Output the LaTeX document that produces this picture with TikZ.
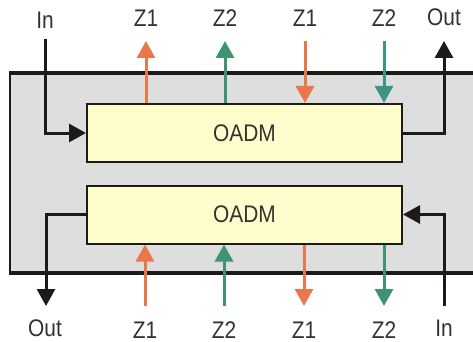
\documentclass[tikz,border=0pt]{standalone}
\usepackage{fontspec}
\setmainfont[FakeStretch=0.87]{Liberation Sans}
\usepackage{tikz}
\usetikzlibrary{arrows.meta}
\definecolor{zorange}{HTML}{E8784A}
\definecolor{zgreen}{HTML}{3F9470}
\definecolor{zteal}{HTML}{3B9488}
\definecolor{shelf}{HTML}{DEDEDE}
\definecolor{oadmfill}{HTML}{FFFDCC}
\definecolor{ink}{HTML}{1E1A18}

\begin{document}
\begin{tikzpicture}[x=1pt, y=-1pt,
    lbl/.style={font=\fontsize{24}{28}\selectfont, text=ink!90, inner sep=0pt},
    oadm/.style={draw=ink, line width=2pt, fill=oadmfill, minimum width=315pt, minimum height=58pt, font=\fontsize{24}{28}\selectfont, text=ink!90},
    sig/.style={line width=3pt, draw=ink, -{Triangle[width=18pt,length=17pt]}},
    zone/.style={line width=3pt, -{Triangle[width=18pt,length=17pt]}}]
      \useasboundingbox (0,0) rectangle (473,342);
      \fill[shelf] (10,73) rectangle (473,273);
      \draw[ink, line width=1.5pt] (10,73) -- (10,273);
      \draw[ink, line width=3.5pt] (9.25,73) -- (473,73);
      \draw[ink, line width=3.5pt] (9.25,273) -- (473,273);
      \node[oadm] (top) at (244.5,133) {OADM};
      \node[oadm] (bot) at (244.5,214.5) {OADM};
      % labels
      \node[lbl] (inA)  at (45,20.5) {In};
      \node[lbl] (z1A)  at (146,18)  {Z1};
      \node[lbl] (z2A)  at (225,18)  {Z2};
      \node[lbl] (z1B)  at (305,18)  {Z1};
      \node[lbl] (z2B)  at (384,18)  {Z2};
      \node[lbl] (outA) at (444,17)  {Out};
      \node[lbl] (outB) at (45,328)  {Out};
      \node[lbl] (z1C)  at (145,330) {Z1};
      \node[lbl] (z2C)  at (224,330) {Z2};
      \node[lbl] (z1D)  at (304,330) {Z1};
      \node[lbl] (z2D)  at (384,330) {Z2};
      \node[lbl] (inB)  at (444,328) {In};
      % line ends
      \coordinate (inAend)  at (45,39);
      \coordinate (outAend) at (444,41);
      \coordinate (outBend) at (46,306);
      \coordinate (inBend)  at (444,306);
      \coordinate (z1Aend) at (146,41);
      \coordinate (z2Aend) at (225,41);
      \coordinate (z1Bend) at (305,41);
      \coordinate (z2Bend) at (384,41);
      \coordinate (z1Cend) at (145,306);
      \coordinate (z2Cend) at (224,306);
      \coordinate (z1Dend) at (304,306);
      \coordinate (z2Dend) at (384,306);
      % top OADM
      \draw[sig] (inAend) |- (top.west);
      \draw[sig] (top.east) -| (outAend);
      \draw[zone, zorange] (top.north -| z1Aend) -- (z1Aend);
      \draw[zone, zgreen]  (top.north -| z2Aend) -- (z2Aend);
      \draw[zone, zorange] (z1Bend) -- (top.north -| z1Bend);
      \draw[zone, zteal]   (z2Bend) -- (top.north -| z2Bend);
      % bottom OADM
      \draw[sig] (inBend) |- (bot.east);
      \draw[sig] (bot.west) -| (outBend);
      \draw[zone, zorange] (z1Cend) -- (bot.south -| z1Cend);
      \draw[zone, zgreen]  (z2Cend) -- (bot.south -| z2Cend);
      \draw[zone, zorange] (bot.south -| z1Dend) -- (z1Dend);
      \draw[zone, zgreen]  (bot.south -| z2Dend) -- (z2Dend);
\end{tikzpicture}
\end{document}
